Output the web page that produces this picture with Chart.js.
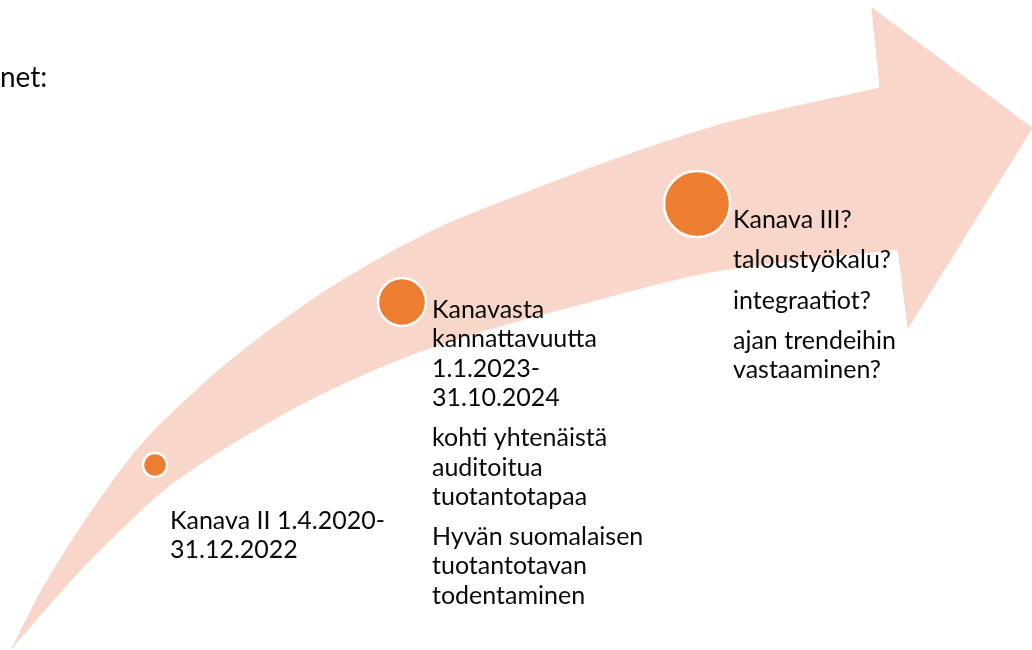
<!DOCTYPE html>
<html>
<head>
<meta charset="utf-8">
<script src="https://cdn.jsdelivr.net/npm/chart.js@4"></script>
<style>
  body { margin: 0; background: #fff; }
  #wrap { width: 1032px; height: 650px; }
</style>
</head>
<body>
<div id="wrap"><canvas id="arrowChart" width="1032" height="650"></canvas></div>
<script>
// arrow outline (x, y in page units, y grows downwards)
const upperEdgeX = [12, 43, 83, 140, 200, 250, 330, 430, 530, 630, 730, 880]
const upperEdgeY = [648, 588, 524, 446, 387, 345, 288, 232, 191, 154, 122, 88]
const headX = [872, 1032, 908, 898]
const headY = [8, 128, 328, 249]
const lowerEdgeX = [800, 700, 570, 483, 430, 383, 317, 250, 200, 160, 90, 50, 12]
const lowerEdgeY = [260, 274, 307, 331, 348, 366, 396, 433, 464, 493, 560, 604, 648]

// milestones
const stepX = [155, 402, 697]
const stepY = [465, 302, 204]
const stepR = [12, 24, 33]

const stepTexts = [
    [['Kanava II 1.4.2020-', '31.12.2022']],
    [['Kanavasta', 'kannattavuutta', '1.1.2023-', '31.10.2024'],
     ['kohti yhtenäistä', 'auditoitua', 'tuotantotapaa'],
     ['Hyvän suomalaisen', 'tuotantotavan', 'todentaminen']],
    [['Kanava III?'], ['taloustyökalu?'], ['integraatiot?'], ['ajan trendeihin', 'vastaaminen?']]
]
const textAnchorX = [170, 432, 733]
const textAnchorY = [521, 310, 220]

// corners are pushed twice so the curve stays sharp there
const outline = []
upperEdgeX.forEach((x, i) => {
    outline.push({x: x, y: upperEdgeY[i]})
    if (i == upperEdgeX.length - 1) outline.push({x: x, y: upperEdgeY[i]})
})
headX.forEach((x, i) => {
    outline.push({x: x, y: headY[i]})
    outline.push({x: x, y: headY[i]})
})
lowerEdgeX.forEach((x, i) => outline.push({x: x, y: lowerEdgeY[i]}))

const bubbles = stepX.map((x, i) => ({x: x, y: stepY[i], r: stepR[i]}))

const FONT = 'Lato, "Open Sans", sans-serif'

const textPlugin = {
    id: 'stepText',
    afterDatasetsDraw(chart) {
        const ctx = chart.ctx
        const xs = chart.scales.x
        const ys = chart.scales.y
        ctx.save()
        ctx.fillStyle = '#0a0a0a'
        ctx.textBaseline = 'middle'
        ctx.textAlign = 'left'
        ctx.font = '25px ' + FONT
        stepTexts.forEach((paras, i) => {
            let y = textAnchorY[i]
            paras.forEach((lines, p) => {
                if (p > 0) y += 11
                lines.forEach(line => {
                    ctx.fillText(line, xs.getPixelForValue(textAnchorX[i]), ys.getPixelForValue(y))
                    y += 29.3
                })
            })
        })
        // cut-off title on the left
        ctx.font = '28px ' + FONT
        ctx.fillText('net:', 0, 78)
        ctx.restore()
    }
}

new Chart(document.getElementById('arrowChart'), {
    type: 'scatter',
    data: {
        datasets: [
            {
                type: 'bubble',
                data: bubbles,
                backgroundColor: '#ED7D31',
                borderColor: '#ffffff',
                borderWidth: 2.5,
                clip: false,
                order: 0
            },
            {
                type: 'line',
                data: outline,
                showLine: true,
                fill: 'shape',
                backgroundColor: '#F8D6CA',
                borderColor: '#F8D6CA',
                borderWidth: 1,
                pointRadius: 0,
                tension: 0.3,
                clip: false,
                order: 1
            }
        ]
    },
    options: {
        responsive: false,
        animation: false,
        layout: { padding: 0, autoPadding: false },
        plugins: { legend: { display: false }, tooltip: { enabled: false } },
        events: [],
        scales: {
            x: { type: 'linear', min: 0, max: 1032, display: false },
            y: { type: 'linear', min: 0, max: 650, reverse: true, display: false }
        }
    },
    plugins: [textPlugin]
})
</script>
</body>
</html>
